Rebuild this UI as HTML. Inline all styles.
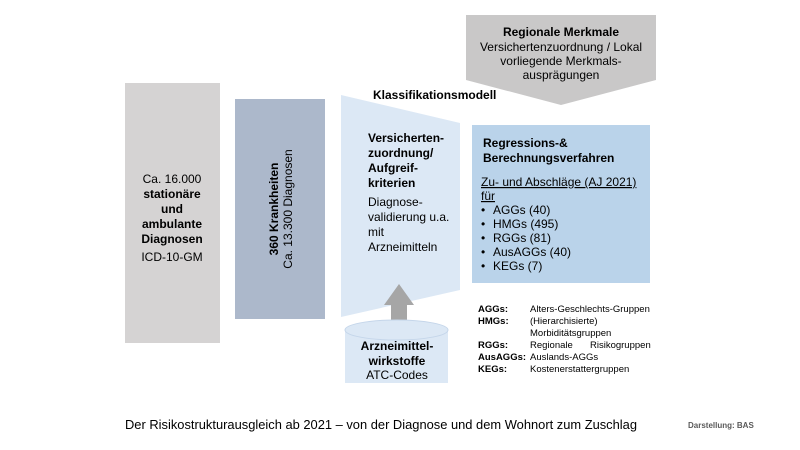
<!DOCTYPE html>
<html><head><meta charset="utf-8"><style>
html,body{margin:0;padding:0;background:#fff;}
svg{display:block;font-family:"Liberation Sans",Arial,sans-serif;}
</style></head><body>
<svg width="800" height="450" viewBox="0 0 800 450" xml:space="preserve">
<rect x="125" y="83" width="95" height="260" fill="#d5d3d3"/>
<g font-size="12" fill="#000" text-anchor="middle">
<text x="172" y="183">Ca. 16.000</text>
<text x="172" y="198" font-weight="bold">stationäre</text>
<text x="172" y="213" font-weight="bold">und</text>
<text x="172" y="228" font-weight="bold">ambulante</text>
<text x="172" y="243" font-weight="bold">Diagnosen</text>
<text x="172" y="261">ICD-10-GM</text>
</g>
<rect x="235" y="99" width="90" height="220" fill="#acb8cb"/>
<g transform="translate(280,209) rotate(-90)" text-anchor="middle" font-size="12">
<text x="0" y="-2" font-weight="bold">360 Krankheiten</text>
<text x="0" y="12">Ca. 13.300 Diagnosen</text>
</g>
<polygon points="341,95 460,123 460,290 341,317" fill="#dce8f5"/>
<polygon points="466,15 656,15 656,80 561,105 466,80" fill="#c9c8c8"/>
<g text-anchor="middle" font-size="12">
<text x="561" y="36" font-weight="bold">Regionale Merkmale</text>
<text x="561" y="51">Versichertenzuordnung / Lokal</text>
<text x="561" y="65">vorliegende Merkmals-</text>
<text x="561" y="79">ausprägungen</text>
</g>
<text x="373" y="99" font-size="12" font-weight="bold">Klassifikationsmodell</text>
<g font-size="12">
<text x="368" y="142" font-weight="bold">Versicherten-</text>
<text x="368" y="157" font-weight="bold">zuordnung/</text>
<text x="368" y="172" font-weight="bold">Aufgreif-</text>
<text x="368" y="187" font-weight="bold">kriterien</text>
<text x="368" y="206">Diagnose-</text>
<text x="368" y="221">validierung u.a.</text>
<text x="368" y="236">mit</text>
<text x="368" y="251">Arzneimitteln</text>
</g>
<rect x="472" y="125" width="178" height="158" fill="#bad3ea"/>
<g font-size="12">
<text x="483" y="147" font-weight="bold">Regressions-&amp;</text>
<text x="483" y="162" font-weight="bold">Berechnungsverfahren</text>
<text x="481" y="186" text-decoration="underline">Zu- und Abschläge (AJ 2021)</text>
<text x="481" y="200" text-decoration="underline">für</text>
<text x="481" y="214">•</text><text x="493" y="214">AGGs (40)</text>
<text x="481" y="228">•</text><text x="493" y="228">HMGs (495)</text>
<text x="481" y="242">•</text><text x="493" y="242">RGGs (81)</text>
<text x="481" y="256">•</text><text x="493" y="256">AusAGGs (40)</text>
<text x="481" y="270">•</text><text x="493" y="270">KEGs (7)</text>
</g>
<polygon points="391,330 391,305 384,305 399,284 414,305 407,305 407,330" fill="#a6a6a6"/>
<rect x="345" y="330" width="103" height="53" fill="#dce8f5"/>
<ellipse cx="396.5" cy="330" rx="51.5" ry="10" fill="#dce8f5" stroke="#c5d6ea" stroke-width="1"/>
<g text-anchor="middle" font-size="12">
<text x="397" y="350" font-weight="bold">Arzneimittel-</text>
<text x="397" y="365" font-weight="bold">wirkstoffe</text>
<text x="397" y="379">ATC-Codes</text>
</g>
<g font-size="9.5">
<text x="478" y="312" font-weight="bold">AGGs:</text><text x="530" y="312">Alters-Geschlechts-Gruppen</text>
<text x="478" y="324" font-weight="bold">HMGs:</text><text x="530" y="324">(Hierarchisierte)</text>
<text x="530" y="336">Morbiditätsgruppen</text>
<text x="478" y="348" font-weight="bold">RGGs:</text><text x="530" y="348">Regionale</text><text x="590" y="348">Risikogruppen</text>
<text x="478" y="360" font-weight="bold">AusAGGs:</text><text x="530" y="360">Auslands-AGGs</text>
<text x="478" y="372" font-weight="bold">KEGs:</text><text x="530" y="372">Kostenerstattergruppen</text>
</g>
<text x="125" y="429" font-size="13" textLength="512" lengthAdjust="spacingAndGlyphs">Der Risikostrukturausgleich ab 2021 – von der Diagnose und dem Wohnort zum Zuschlag</text>
<text x="688" y="428" font-size="8" fill="#595959" font-weight="bold">Darstellung: BAS</text>
</svg>
</body></html>
